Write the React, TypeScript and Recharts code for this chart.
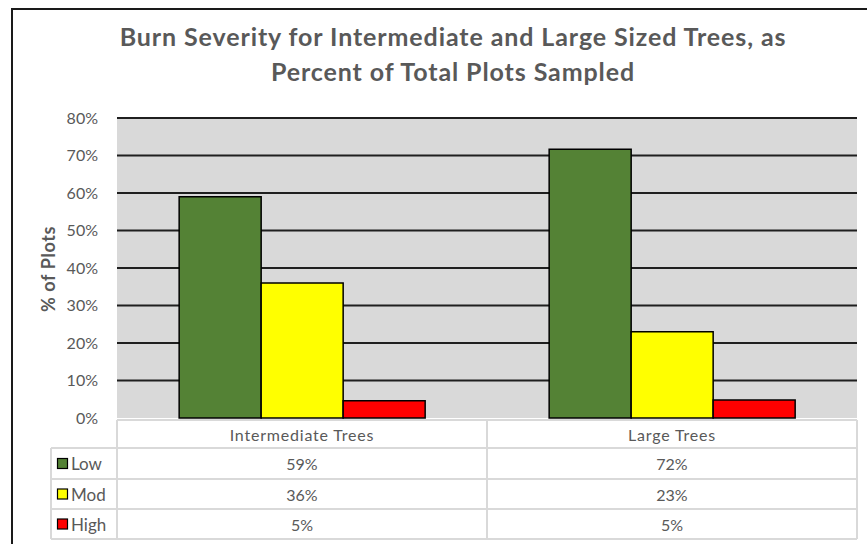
import React from 'react';
import { BarChart, Bar, XAxis, YAxis, CartesianGrid } from 'recharts';

const categories = ['Intermediate Trees', 'Large Trees'];
const lowValues = [0.59, 0.717];
const modValues = [0.36, 0.23];
const highValues = [0.046, 0.048];
const yTicks = [0, 0.1, 0.2, 0.3, 0.4, 0.5, 0.6, 0.7, 0.8];
const seriesKeys = ['Low', 'Mod', 'High'];
const seriesColors = ['#548235', '#ffff00', '#ff0000'];
const seriesValues = [lowValues, modValues, highValues];

const data = categories.map((c, i) => ({
  name: c,
  Low: lowValues[i],
  Mod: modValues[i],
  High: highValues[i],
}));

const W = 867;
const H = 544;
const PLOT_LEFT = 117;
const PLOT_RIGHT = 857;
const PLOT_TOP = 118;
const PLOT_BOTTOM = 418;
const BAND = (PLOT_RIGHT - PLOT_LEFT) / categories.length;
const ROWS = [420, 448, 479, 509, 539];
const LEG_LEFT = 51;
const TEXT = '#595959';
const LINE = '#d9d9d9';
const FONT = 'Lato, "Open Sans", sans-serif';

const pct = (v: number) => `${Math.round(v * 100)}%`;

const TableTick = (props: any) => {
  const { payload, index } = props;
  const cx = payload.coordinate;
  const x0 = cx - BAND / 2;
  const x1 = cx + BAND / 2;
  const cat = categories[index] ?? payload.value;
  return (
    <g>
      <rect x={x0} y={ROWS[0]} width={BAND} height={ROWS[4] - ROWS[0]} fill="#ffffff" />
      {ROWS.map((ry, i) => (
        <line key={i} x1={x0} x2={x1} y1={ry} y2={ry} stroke={LINE} strokeWidth={2} />
      ))}
      <line x1={x0} x2={x0} y1={ROWS[0]} y2={ROWS[4]} stroke={LINE} strokeWidth={2} />
      <line x1={x1} x2={x1} y1={ROWS[0]} y2={ROWS[4]} stroke={LINE} strokeWidth={2} />
      <text x={cx} y={(ROWS[0] + ROWS[1]) / 2} textAnchor="middle" dominantBaseline="central" fill={TEXT} fontSize={16} letterSpacing={0.8} fontFamily={FONT}>
        {cat}
      </text>
      {seriesValues.map((vals, r) => (
        <text key={r} x={cx} y={(ROWS[r + 1] + ROWS[r + 2]) / 2} textAnchor="middle" dominantBaseline="central" fill={TEXT} fontSize={16} fontFamily={FONT}>
          {pct(vals[index])}
        </text>
      ))}
      {index === 0 && (
        <g>
          {ROWS.slice(1).map((ry, i) => (
            <line key={i} x1={LEG_LEFT} x2={x0} y1={ry} y2={ry} stroke={LINE} strokeWidth={2} />
          ))}
          <line x1={LEG_LEFT} x2={LEG_LEFT} y1={ROWS[1]} y2={ROWS[4]} stroke={LINE} strokeWidth={2} />
          {seriesKeys.map((k, r) => {
            const my = (ROWS[r + 1] + ROWS[r + 2]) / 2;
            return (
              <g key={k}>
                <rect x={57.5} y={my - 5} width={10} height={10} fill={seriesColors[r]} stroke="#000" strokeWidth={1.2} />
                <text x={71} y={my} dominantBaseline="central" fill={TEXT} fontSize={17} fontFamily={FONT}>
                  {k}
                </text>
              </g>
            );
          })}
        </g>
      )}
    </g>
  );
};

export default function App() {
  return (
    <div style={{ position: 'absolute', left: 0, top: 0, width: W, height: H, background: '#fff', overflow: 'hidden' }}>
      <div
        style={{
          position: 'absolute',
          left: 11,
          top: 8,
          width: W + 20,
          height: H + 20,
          borderTop: '2px solid #1a1a1a',
          borderLeft: '2px solid #1a1a1a',
          boxSizing: 'border-box',
        }}
      />
      <div
        style={{
          position: 'absolute',
          left: 0,
          top: 19,
          width: 906,
          textAlign: 'center',
          fontFamily: FONT,
          fontWeight: 700,
          fontSize: 25,
          letterSpacing: '0.9px',
          lineHeight: '35px',
          color: TEXT,
        }}
      >
        Burn Severity for Intermediate and Large Sized Trees, as
        <br />
        Percent of Total Plots Sampled
      </div>
      <div style={{ position: 'absolute', left: 0, top: 0 }}>
        <BarChart
          width={W}
          height={H}
          data={data}
          margin={{ top: PLOT_TOP, right: W - PLOT_RIGHT, bottom: 0, left: 0 }}
          barGap={0}
          barCategoryGap="16.8%"
        >
          <CartesianGrid
            vertical={false}
            horizontalValues={yTicks.slice(1)}
            stroke="#1f1f1f"
            strokeWidth={2}
            fill="#d9d9d9"
            fillOpacity={1}
          />
          <XAxis
            dataKey="name"
            height={H - PLOT_BOTTOM}
            axisLine={false}
            tickLine={false}
            interval={0}
            tick={TableTick}
          />
          <YAxis
            width={PLOT_LEFT}
            domain={[0, 0.8]}
            ticks={yTicks}
            tickFormatter={pct}
            axisLine={false}
            tickLine={false}
            tickSize={0}
            tickMargin={19}
            tick={{ fill: TEXT, fontSize: 16, fontFamily: FONT }}
            label={{
              value: '% of Plots',
              angle: -90,
              position: 'insideLeft',
              content: () => (
                <text
                  x={48}
                  y={269}
                  transform="rotate(-90 48 269)"
                  textAnchor="middle"
                  dominantBaseline="central"
                  fill={TEXT}
                  fontSize={18}
                  fontWeight={700}
                  letterSpacing={0.6}
                  fontFamily={FONT}
                >
                  % of Plots
                </text>
              ),
            }}
          />
          {seriesKeys.map((k, i) => (
            <Bar key={k} dataKey={k} fill={seriesColors[i]} stroke="#000000" strokeWidth={1.5} isAnimationActive={false} />
          ))}
        </BarChart>
      </div>
    </div>
  );
}
